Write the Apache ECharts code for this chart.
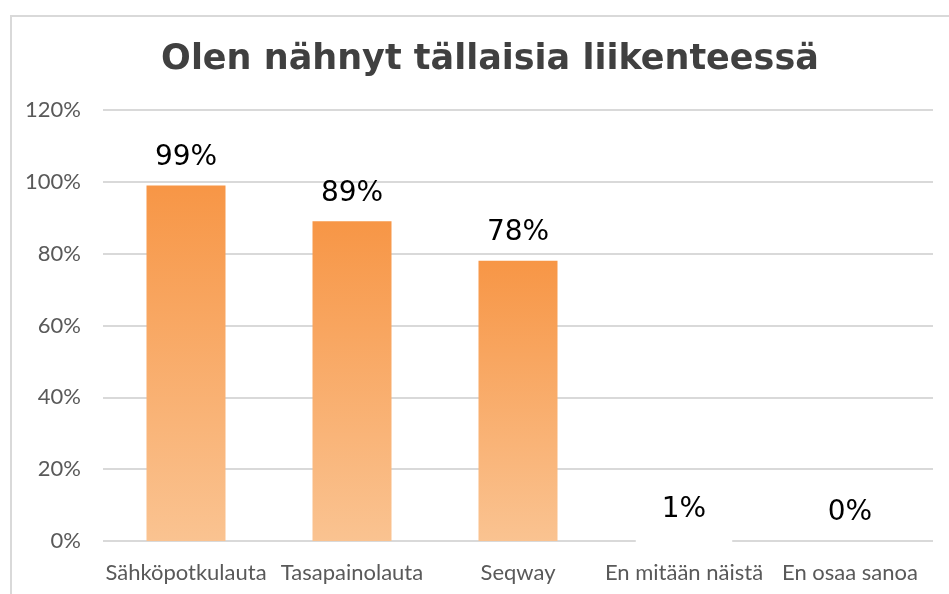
<!DOCTYPE html>
<html lang="fi">
<head>
    <meta charset="UTF-8">
    <title>Olen nähnyt tällaisia liikenteessä</title>
    <style>
        body { margin: 0; background: #fff; }
        #frame { position: absolute; left: 10px; top: 15px; width: 960px; height: 600px; border: 2px solid #d9d9d9; box-sizing: border-box; }
    </style>
</head>
<body>
<div id="frame"></div>
<div id="main" style="position:absolute;left:0;top:0;width:949px;height:594px;"></div>
<script type="text/javascript" src="https://cdn.jsdelivr.net/npm/echarts@6/dist/echarts.min.js"></script>
<script type="text/javascript">
    // kategoriat ja arvot (%)
    var categories = ['Sähköpotkulauta', 'Tasapainolauta', 'Seqway', 'En mitään näistä', 'En osaa sanoa'];
    var values = [99, 89, 78, 1, 0];
    var yTicks = [0, 20, 40, 60, 80, 100, 120];

    var myChart = echarts.init(document.getElementById('main'));

    var barColor = new echarts.graphic.LinearGradient(0, 0, 0, 1, [
        {offset: 0, color: '#f79646'},
        {offset: 1, color: '#fac391'}
    ]);

    var seriesData = values.map(function (v) {
        var item = {value: v};
        if (v > 0 && v < 5) {
            // pieni arvo: valkoinen tausta peittää palkin ja viivan kuten alkuperäisessä
            item.label = {backgroundColor: '#fff', padding: [0, 26, 20, 26], distance: -6};
        }
        return item;
    });

    var option = {
        animation: false,
        title: {
            text: 'Olen nähnyt tällaisia liikenteessä',
            left: 485,
            textAlign: 'center',
            top: 37,
            textStyle: {
                fontFamily: 'DejaVu Sans',
                fontWeight: 'bold',
                fontSize: 35,
                color: '#404040'
            }
        },
        grid: {left: 103, right: 16, top: 110, bottom: 53},
        xAxis: {
            type: 'category',
            data: categories,
            axisLine: {show: false},
            axisTick: {show: false},
            axisLabel: {
                color: '#595959',
                fontFamily: 'Lato',
                fontSize: 22,
                margin: 21,
                interval: 0
            }
        },
        yAxis: {
            type: 'value',
            min: yTicks[0],
            max: yTicks[yTicks.length - 1],
            interval: 20,
            axisLabel: {
                formatter: '{value}%',
                color: '#595959',
                fontFamily: 'Lato',
                fontSize: 22,
                margin: 22
            },
            splitLine: {lineStyle: {color: '#d9d9d9', width: 2}}
        },
        series: [{
            type: 'bar',
            data: seriesData,
            barWidth: 79,
            itemStyle: {color: barColor},
            label: {
                show: true,
                position: 'top',
                formatter: '{c}%',
                color: '#000',
                fontFamily: 'DejaVu Sans',
                fontSize: 28,
                distance: 14
            }
        }]
    };
    myChart.setOption(option);
</script>
</body>
</html>
